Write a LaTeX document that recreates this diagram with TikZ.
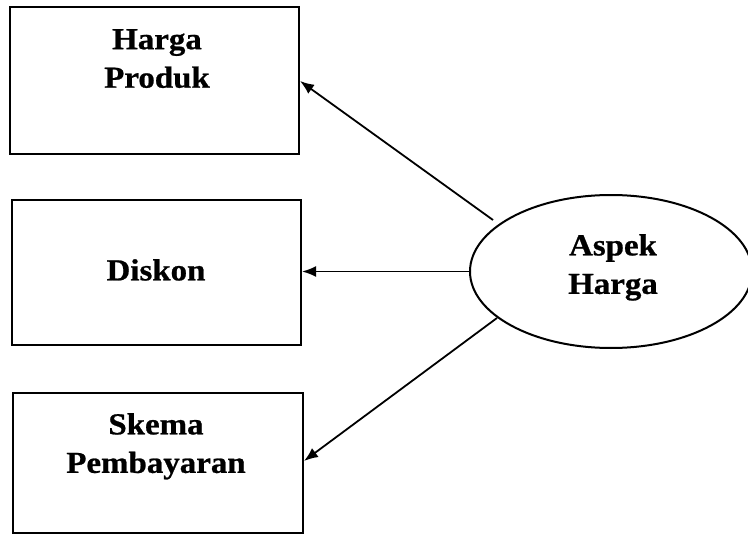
\documentclass[tikz,border=0pt]{standalone}
\usepackage{fontspec}
\setmainfont{Liberation Serif}[BoldFeatures={FakeStretch=1.08,FakeBold=0.8}]
\usetikzlibrary{shapes.geometric,arrows.meta}
\begin{document}
\begin{tikzpicture}[x=1pt,y=-1pt,
  frame/.style={draw,line width=2pt,rectangle,inner sep=0pt},
  oval/.style={draw,line width=2pt,ellipse,inner sep=0pt},
  caption/.style={anchor=north,inner sep=0pt,align=center,
    font=\fontsize{30.5}{38.5}\selectfont\bfseries},
  link/.style={line width=1.8pt,-{Latex[length=14pt,width=11pt]}}]
\useasboundingbox (0,0) rectangle (748,535);
% boxes on the left
\node[frame,minimum width=289pt,minimum height=147pt] (prod) at (154.5,80.5) {};
\node[frame,minimum width=289pt,minimum height=145pt] (disk) at (156.5,272.5) {};
\node[frame,minimum width=290pt,minimum height=140pt] (skem) at (158,463) {};
% ellipse on the right
\node[oval,minimum width=282pt,minimum height=153pt] (asp) at (611,271.5) {};
% labels
\node[caption] (tprod) at (157,29) {Harga\\Produk};
\node[caption] (tdisk) at (156,259) {Diskon};
\node[caption] (tskem) at (156,413) {Skema\\Pembayaran};
\node[caption] (tasp) at (613,234) {Aspek\\Harga};
% connectors
\coordinate (s1) at (493,220);
\coordinate (s3) at (497,318);
\draw[link] (s1) -- ([yshift=-75pt]prod.north east);
\draw[link] (asp.west) -- (asp.west -| disk.east);
\draw[link] (s3) -- ([yshift=-69pt]skem.north east);
\end{tikzpicture}
\end{document}
